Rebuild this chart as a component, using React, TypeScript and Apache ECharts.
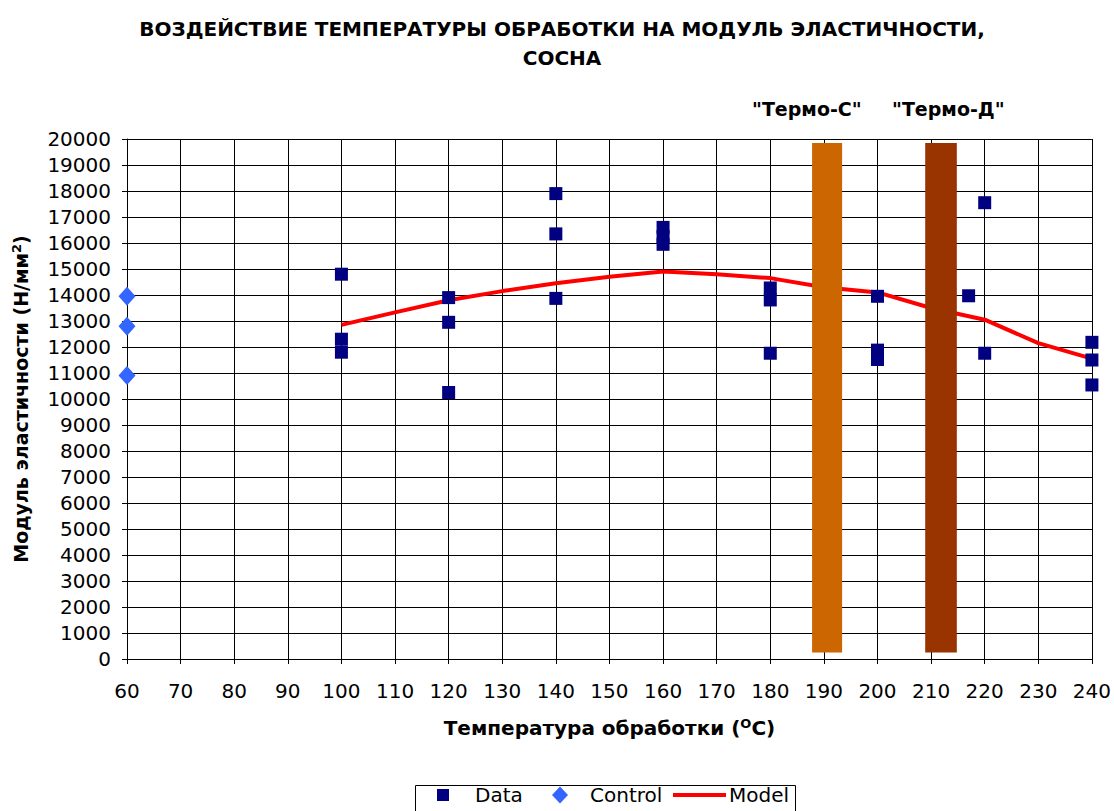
import React, { useEffect, useRef } from "react";
import * as echarts from "echarts";

const titleText = "ВОЗДЕЙСТВИЕ ТЕМПЕРАТУРЫ ОБРАБОТКИ НА МОДУЛЬ ЭЛАСТИЧНОСТИ,\nСОСНА";

// Measured data points [temperature, modulus]
const dataPoints: [number, number][] = [
  [100, 14800], [100, 12300], [100, 11800],
  [120, 13900], [120, 12950], [120, 10250],
  [140, 17900], [140, 16350], [140, 13870],
  [160, 16600], [160, 16250], [160, 15950],
  [180, 14270], [180, 13810], [180, 11760],
  [200, 13950], [200, 11880], [200, 11520],
  [217, 13970],
  [220, 17550], [220, 11760],
  [240, 12180], [240, 11500], [240, 10540],
];

const controlPoints: [number, number][] = [
  [60, 13950], [60, 12800], [60, 10900],
];

const modelX = [100, 110, 120, 130, 140, 150, 160, 170, 180, 190, 200, 210, 220, 230, 240];
const modelY = [12850, 13330, 13800, 14150, 14450, 14700, 14900, 14800, 14650, 14300, 14100, 13500, 13050, 12150, 11550];

// Treatment zones: [xFrom, xTo, yFrom, yTo]
const zoneNames = ['"Термо-С"', '"Термо-Д"'];
const zoneRanges: [number, number, number, number][] = [
  [187.8, 193.4, 250, 19850],
  [208.9, 214.8, 250, 19850],
];
const zoneColors = ["#CC6600", "#993300"];

const FONT = "DejaVu Sans";

export default function App() {
  const ref = useRef<HTMLDivElement>(null);
  useEffect(() => {
    const chart = echarts.init(ref.current!, undefined, { renderer: "svg" });
    const legendText = { fontFamily: FONT, fontSize: 20, color: "#000" };
    chart.setOption({
      animation: false,
      backgroundColor: "#fff",
      title: {
        text: titleText,
        left: 557,
        top: 9,
        textAlign: "center",
        textStyle: { fontFamily: FONT, fontWeight: "bold", fontSize: 20, lineHeight: 29, color: "#000" },
      },
      grid: { left: 127, right: 21, top: 139, bottom: 152, containLabel: false },
      legend: [
        {
          left: 437,
          top: 785,
          padding: 0,
          itemWidth: 12,
          itemHeight: 12,
          textStyle: { ...legendText, padding: [0, 0, 0, 21] },
          data: [{ name: "Data", icon: "rect" }],
        },
        {
          left: 552,
          top: 785,
          padding: 0,
          itemWidth: 16,
          itemHeight: 17,
          textStyle: { ...legendText, padding: [0, 0, 0, 17] },
          data: [{ name: "Control", icon: "diamond" }],
        },
        {
          left: 673,
          top: 785,
          padding: 0,
          itemWidth: 53,
          itemHeight: 4,
          textStyle: { ...legendText, padding: [0, 0, 0, -2] },
          data: [{ name: "Model", icon: "rect" }],
        },
      ],
      xAxis: {
        type: "value",
        min: 60,
        max: 240,
        interval: 10,
        name: "{b|Температура обработки (}{s|O}{b|C)}",
        nameLocation: "middle",
        nameGap: 58,
        nameTextStyle: {
          rich: {
            b: { fontFamily: FONT, fontWeight: "bold", fontSize: 20, color: "#000" },
            s: { fontFamily: FONT, fontWeight: "bold", fontSize: 13, color: "#000", padding: [0, 0, 9, 0] },
          },
        },
        axisLine: { onZero: false, lineStyle: { color: "#000", width: 1 } },
        axisTick: { show: true, length: 5, lineStyle: { color: "#000" } },
        axisLabel: { fontFamily: FONT, fontSize: 20, color: "#000", margin: 22, formatter: (v: number) => String(v) },
        splitLine: { show: true, lineStyle: { color: "#000", width: 1 } },
      },
      yAxis: {
        type: "value",
        min: 0,
        max: 20000,
        interval: 1000,
        name: "{b|Модуль эластичности (Н/мм}{s|2}{b|)}",
        nameLocation: "middle",
        nameGap: 95,
        nameRotate: 90,
        nameTextStyle: {
          rich: {
            b: { fontFamily: FONT, fontWeight: "bold", fontSize: 19, color: "#000" },
            s: { fontFamily: FONT, fontWeight: "bold", fontSize: 13, color: "#000", padding: [0, 0, 9, 0] },
          },
        },
        axisLine: { show: true, lineStyle: { color: "#000", width: 1 } },
        axisTick: { show: true, length: 5, lineStyle: { color: "#000" } },
        axisLabel: { fontFamily: FONT, fontSize: 20, color: "#000", margin: 16, formatter: (v: number) => String(v) },
        splitLine: { show: true, lineStyle: { color: "#000", width: 1 } },
      },
      series: [
        {
          name: "Model",
          type: "line",
          data: modelX.map((x, i) => [x, modelY[i]]),
          symbol: "none",
          lineStyle: { color: "#FF0000", width: 4 },
          itemStyle: { color: "#FF0000" },
          z: 2,
        },
        {
          name: "Zones",
          type: "custom",
          data: zoneRanges.map((r, i) => [r[0], r[1], r[2], r[3], i]),
          renderItem: (params: any, api: any) => {
            const p0 = api.coord([api.value(0), api.value(3)]);
            const p1 = api.coord([api.value(1), api.value(2)]);
            const idx = api.value(4);
            return {
              type: "rect",
              shape: { x: p0[0], y: p0[1], width: p1[0] - p0[0], height: p1[1] - p0[1] },
              style: { fill: zoneColors[idx] },
            };
          },
          silent: true,
          z: 3,
        },
        {
          name: "Data",
          type: "scatter",
          data: dataPoints,
          symbol: "rect",
          symbolSize: 13,
          itemStyle: { color: "#000080", opacity: 1 },
          z: 4,
        },
        {
          name: "Control",
          type: "scatter",
          data: controlPoints,
          symbol: "diamond",
          symbolSize: [17, 19],
          itemStyle: { color: "#3366FF", opacity: 1 },
          z: 4,
        },
      ],
      graphic: [
        {
          type: "text",
          left: 752,
          top: 99,
          style: { text: zoneNames[0], fontFamily: FONT, fontWeight: "bold", fontSize: 19, fill: "#000" },
        },
        {
          type: "text",
          left: 892,
          top: 99,
          style: { text: zoneNames[1], fontFamily: FONT, fontWeight: "bold", fontSize: 19, fill: "#000" },
        },
        {
          type: "rect",
          left: 413,
          top: 783,
          shape: { width: 380, height: 40 },
          style: { fill: "none", stroke: "#000", lineWidth: 1 },
          silent: true,
        },
      ],
    });
    return () => chart.dispose();
  }, []);
  return <div ref={ref} style={{ width: 1114, height: 811, position: "absolute", left: 0, top: 0 }} />;
}
